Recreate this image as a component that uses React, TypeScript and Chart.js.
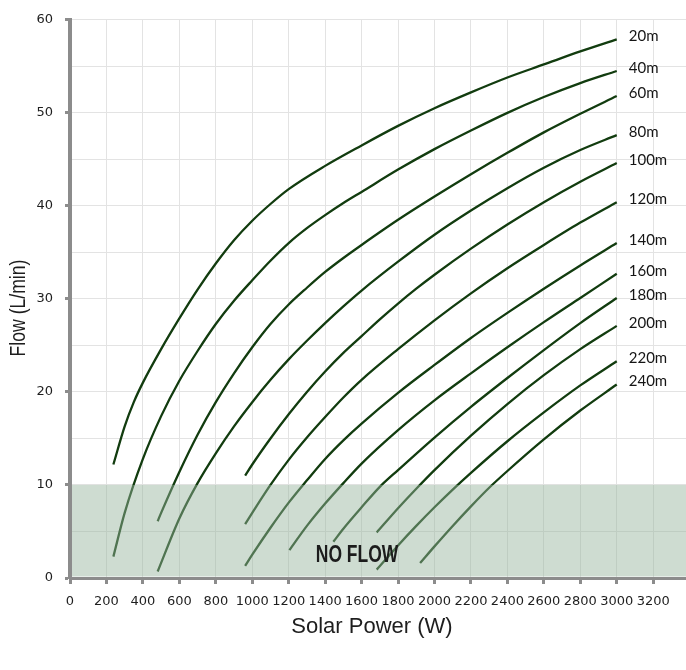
import React, { useEffect, useRef } from 'react';
import { Chart, registerables } from 'chart.js';

Chart.register(...registerables);

// ---- data -------------------------------------------------------------
const heads = ['20m', '40m', '60m', '80m', '100m', '120m', '140m', '160m', '180m', '200m', '220m', '240m'];

// [solar power (W), flow (L/min)]
const flow20 = [[238, 12.2], [300, 16.3], [350, 18.9], [400, 21.0], [500, 24.6], [600, 27.9], [700, 31.0], [800, 33.8], [900, 36.3], [1000, 38.4], [1100, 40.2], [1200, 41.8], [1400, 44.3], [1600, 46.5], [1800, 48.6], [2000, 50.5], [2200, 52.2], [2400, 53.8], [2600, 55.2], [2800, 56.6], [3000, 57.9]];
const flow40 = [[238, 2.3], [300, 7.0], [400, 12.8], [500, 17.4], [600, 21.2], [700, 24.4], [800, 27.3], [900, 29.8], [1000, 32.0], [1100, 34.1], [1200, 36.0], [1300, 37.6], [1400, 39.0], [1500, 40.3], [1600, 41.5], [1800, 43.9], [2000, 46.1], [2200, 48.1], [2400, 50.0], [2600, 51.7], [2800, 53.2], [3000, 54.5]];
const flow60 = [[481, 6.1], [500, 7.0], [600, 11.4], [700, 15.4], [800, 18.9], [900, 22.0], [1000, 24.8], [1100, 27.3], [1200, 29.4], [1300, 31.2], [1400, 32.9], [1500, 34.4], [1600, 35.8], [1800, 38.5], [2000, 41.0], [2200, 43.4], [2400, 45.7], [2600, 47.9], [2800, 49.9], [3000, 51.8]];
const flow80 = [[481, 0.7], [600, 6.4], [700, 10.2], [800, 13.4], [900, 16.3], [1000, 18.9], [1100, 21.3], [1200, 23.5], [1300, 25.5], [1400, 27.4], [1500, 29.2], [1600, 30.9], [1800, 34.0], [2000, 36.9], [2200, 39.5], [2400, 41.9], [2600, 44.1], [2800, 46.0], [3000, 47.6]];
const flow100 = [[961, 11.0], [1000, 12.2], [1100, 15.0], [1200, 17.6], [1300, 20.0], [1400, 22.2], [1500, 24.2], [1600, 26.0], [1700, 27.8], [1800, 29.5], [1900, 31.1], [2000, 32.6], [2200, 35.4], [2400, 38.0], [2600, 40.4], [2800, 42.6], [3000, 44.6]];
const flow120 = [[961, 5.8], [1000, 7.0], [1100, 10.0], [1200, 12.7], [1300, 15.1], [1400, 17.3], [1500, 19.4], [1600, 21.3], [1800, 24.6], [2000, 27.7], [2200, 30.6], [2400, 33.3], [2600, 35.8], [2800, 38.2], [3000, 40.4]];
const flow140 = [[961, 1.3], [1000, 2.5], [1100, 5.4], [1200, 8.1], [1300, 10.5], [1400, 12.8], [1500, 14.8], [1600, 16.6], [1800, 19.9], [2000, 22.9], [2200, 25.8], [2400, 28.5], [2600, 31.1], [2800, 33.6], [3000, 36.0]];
const flow160 = [[1204, 3.0], [1300, 5.6], [1400, 8.0], [1500, 10.2], [1600, 12.3], [1800, 15.9], [2000, 19.1], [2200, 22.0], [2400, 24.8], [2600, 27.5], [2800, 30.1], [3000, 32.7]];
const flow180 = [[1445, 3.9], [1500, 5.3], [1600, 7.6], [1700, 9.8], [1800, 11.6], [2000, 15.1], [2200, 18.4], [2400, 21.5], [2600, 24.5], [2800, 27.4], [3000, 30.1]];
const flow200 = [[1683, 4.9], [1800, 7.5], [1900, 9.6], [2000, 11.6], [2200, 15.3], [2400, 18.7], [2600, 21.8], [2800, 24.6], [3000, 27.1]];
const flow220 = [[1683, 0.9], [1800, 3.5], [1900, 5.6], [2000, 7.6], [2100, 9.5], [2200, 11.3], [2400, 14.7], [2600, 17.8], [2800, 20.7], [3000, 23.3]];
const flow240 = [[1921, 1.6], [2000, 3.4], [2100, 5.6], [2200, 7.7], [2300, 9.7], [2400, 11.5], [2600, 14.9], [2800, 18.0], [3000, 20.8]];

const curves = [flow20, flow40, flow60, flow80, flow100, flow120, flow140, flow160, flow180, flow200, flow220, flow240];

const xTicks = [0, 200, 400, 600, 800, 1000, 1200, 1400, 1600, 1800, 2000, 2200, 2400, 2600, 2800, 3000, 3200];
const yTicks = [0, 5, 10, 15, 20, 25, 30, 35, 40, 45, 50, 55, 60];
const yLabelStep = 10;
const noFlowLimit = 10;
const noFlowText = 'NO FLOW';
const xTitle = 'Solar Power (W)';
const yTitle = 'Flow (L/min)';

// ---- styling ----------------------------------------------------------
const LINE = '#123c0f';
const AXIS = '#8c8c8c';
const GRID = '#e3e3e3';
const TEXT = '#1e1e1e';

const noFlowPlugin = {
  id: 'noFlow',
  afterDatasetsDraw(chart: any) {
    const { ctx, chartArea, scales } = chart;
    const y10 = scales.y.getPixelForValue(noFlowLimit);
    const y0 = scales.y.getPixelForValue(0);
    ctx.save();
    ctx.fillStyle = 'rgba(150,180,157,0.47)';
    ctx.fillRect(chartArea.left + 2, y10, chartArea.right - chartArea.left - 2, y0 - y10 - 1.5);
    const cx = scales.x.getPixelForValue(1575);
    const cy = scales.y.getPixelForValue(2.45);
    ctx.translate(cx, cy);
    ctx.scale(0.76, 1);
    ctx.font = 'bold 23px "Liberation Sans", Arial, sans-serif';
    ctx.fillStyle = '#1c1c1c';
    ctx.textAlign = 'center';
    ctx.textBaseline = 'middle';
    ctx.fillText(noFlowText, 0, 0);
    ctx.restore();
  },
};

const headLabelPlugin = {
  id: 'headLabels',
  afterDatasetsDraw(chart: any) {
    const { ctx } = chart;
    ctx.save();
    ctx.font = '15px Lato, "Open Sans", sans-serif';
    ctx.fillStyle = '#151515';
    ctx.textAlign = 'left';
    ctx.textBaseline = 'middle';
    chart.data.datasets.forEach((ds: any, i: number) => {
      const meta = chart.getDatasetMeta(i);
      const last = meta.data[meta.data.length - 1];
      if (!last) return;
      ctx.fillText(ds.label, last.x + 12, last.y - 3);
    });
    ctx.restore();
  },
};

const titlePlugin = {
  id: 'axisTitles',
  afterDraw(chart: any) {
    const { ctx } = chart;
    ctx.save();
    ctx.fillStyle = TEXT;
    ctx.textAlign = 'center';
    ctx.textBaseline = 'middle';
    ctx.font = '22px "Liberation Sans", Arial, sans-serif';
    ctx.fillText(xTitle, 372, 627);
    ctx.translate(19, 308);
    ctx.rotate(-Math.PI / 2);
    ctx.scale(0.8, 1);
    ctx.font = '22px "Liberation Sans", Arial, sans-serif';
    ctx.fillText(yTitle, 0, 0);
    ctx.restore();
  },
};

export default function App() {
  const ref = useRef<HTMLCanvasElement | null>(null);

  useEffect(() => {
    if (!ref.current) return;
    const tickFont = { family: '"DejaVu Sans", Verdana, sans-serif', size: 13 };
    const chart = new Chart(ref.current, {
      type: 'line',
      data: {
        datasets: curves.map((c, i) => ({
          label: heads[i],
          data: c.map(([x, y]) => ({ x, y })),
          borderColor: LINE,
          borderWidth: 2.3,
          pointRadius: 0,
          fill: false,
          cubicInterpolationMode: 'monotone' as const,
        })),
      },
      options: {
        animation: false,
        responsive: true,
        maintainAspectRatio: false,
        layout: { padding: { top: 16, right: 0, left: 0, bottom: 0 } },
        plugins: { legend: { display: false }, tooltip: { enabled: false } },
        events: [],
        scales: {
          x: {
            type: 'linear',
            min: 0,
            max: 3380,
            afterBuildTicks: (scale: any) => {
              scale.ticks = xTicks.map((v) => ({ value: v }));
            },
            afterFit: (scale: any) => {
              scale.height = 92;
            },
            grid: {
              color: GRID,
              lineWidth: 1,
              tickColor: AXIS,
              tickLength: 6,
              tickWidth: 3,
            },
            border: { display: true, color: AXIS, width: 3 },
            ticks: {
              autoSkip: false,
              maxRotation: 0,
              padding: 10,
              color: TEXT,
              font: tickFont,
              callback: (v: any) => String(v),
            },
          },
          y: {
            type: 'linear',
            min: 0,
            max: 60,
            afterBuildTicks: (scale: any) => {
              scale.ticks = yTicks.map((v) => ({ value: v }));
            },
            afterFit: (scale: any) => {
              scale.width = 70;
            },
            grid: {
              color: GRID,
              lineWidth: 1,
              tickColor: (ctx: any) => (ctx.tick && ctx.tick.value % yLabelStep === 0 ? AXIS : 'rgba(0,0,0,0)'),
              tickLength: 5,
              tickWidth: 3,
            },
            border: { display: true, color: AXIS, width: 4 },
            ticks: {
              autoSkip: false,
              padding: 12,
              color: TEXT,
              font: tickFont,
              callback: (v: any) => (Number(v) % yLabelStep === 0 ? String(v) : ''),
            },
          },
        },
      },
      plugins: [noFlowPlugin, headLabelPlugin, titlePlugin],
    } as any);
    return () => chart.destroy();
  }, []);

  return (
    <div style={{ position: 'absolute', left: 0, top: 0, width: 686, height: 670, background: '#fff' }}>
      <canvas ref={ref} />
    </div>
  );
}
